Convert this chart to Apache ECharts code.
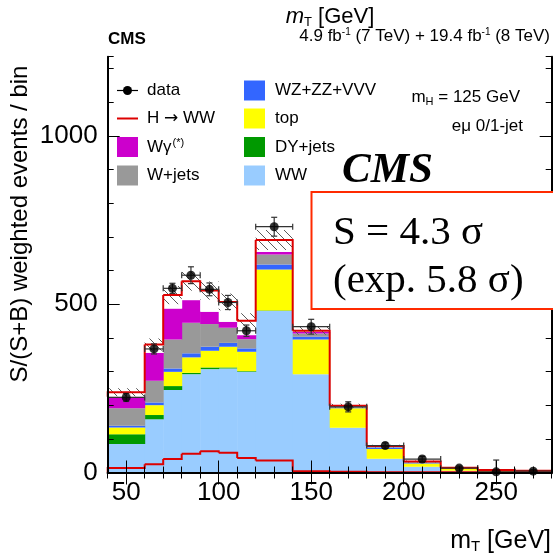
<!DOCTYPE html>
<html>
<head>
<meta charset="utf-8">
<script src="https://cdn.jsdelivr.net/npm/echarts@6/dist/echarts.min.js"></script>
<style>
  html, body { margin: 0; padding: 0; background: #fff; }
  #chart { width: 553px; height: 555px; }
</style>
</head>
<body>
<div id="chart"></div>
<script>
// Transverse-mass bins (GeV) for the e-mu 0/1-jet category
const binEdges = [40, 60, 70, 80, 90, 100, 110, 120, 140, 160, 180, 200, 220, 240, 260, 280];

// S/(S+B) weighted yields per bin, one array per process (stacked bottom to top)
const ww     = [84.6, 158, 245, 292, 307, 309, 299, 480, 292, 133, 41, 17, 5, 2, 1.5];
const dyJets = [28.7, 12.7, 11.7, 4, 5, 3, 2, 1, 0, 0, 0, 0, 0, 0, 0];
const ttbar  = [20.7, 29.3, 42.3, 46, 49.6, 61.5, 57.6, 122, 103, 57.5, 28.8, 10, 6, 4, 2.5];
const vvv    = [5, 8, 10, 12, 12, 11.5, 10, 15, 8, 2.5, 4.8, 3, 1, 0.5, 0.3];
const wJets  = [51.5, 64.5, 86, 90.7, 67.3, 45, 27.4, 29.6, 10, 2.5, 2, 1, 1, 0.3, 0.2];
const wGamma = [34.5, 83, 92, 67.3, 36.6, 17.6, 12, 7, 4, 0.5, 1, 1, 0.5, 0.2, 0.2];
const hww    = [13.5, 24.5, 40, 56, 63, 59, 43, 36, 4, 2, 1, 1, 0.5, 0.3, 0.2];

// Half-width of the systematic uncertainty band around the total prediction
const totalUnc = [12, 18, 27, 28, 27, 25, 22, 30, 12, 6, 4, 3, 2, 1, 1];

// Observed data and its statistical error
const dataVals = [223, 367, 547, 586, 544, 505, 421, 730, 433, 195, 80, 40, 13, 2, 4];
const dataErr  = [12, 15, 15, 25, 19, 21, 17, 28, 22, 15, 8, 8, 6, 35, 5];

// Axis ticks
const xMajorTicks = [50, 100, 150, 200, 250];
const yMajorTicks = [0, 500, 1000];

const FONT = '"Liberation Sans", Arial, Helvetica, sans-serif';
const SERIF = '"Liberation Serif", "Times New Roman", serif';
const RED = '#dd0000';

const binLo = binEdges.slice(0, -1);
const binHi = binEdges.slice(1);
const nBins = binLo.length;

const stack = [
  { name: 'WW',        values: ww,     color: '#99ccff' },
  { name: 'DY+jets',   values: dyJets, color: '#009900' },
  { name: 'top',       values: ttbar,  color: '#ffff00' },
  { name: 'WZ+ZZ+VVV', values: vvv,    color: '#3366ff' },
  { name: 'W+jets',    values: wJets,  color: '#999999' },
  { name: 'Wgamma',    values: wGamma, color: '#cc00cc' },
  { name: 'HWW',       values: hww,    color: '#ffffff' }
];

// cumulative stack levels
const cumulative = new Array(nBins).fill(0);
const stackSeries = stack.map(comp => {
  const data = [];
  for (let i = 0; i < nBins; i++) {
    const base = cumulative[i];
    const topv = base + comp.values[i];
    data.push([binLo[i], binHi[i], base, topv]);
    cumulative[i] = topv;
  }
  return {
    type: 'custom',
    name: comp.name,
    xAxisIndex: 0, yAxisIndex: 0,
    z: 2,
    silent: true,
    encode: { x: [0, 1], y: [2, 3] },
    data: data,
    renderItem: function (params, api) {
      const a = api.coord([api.value(0), api.value(3)]);
      const b = api.coord([api.value(1), api.value(2)]);
      return {
        type: 'rect',
        shape: { x: a[0], y: a[1], width: b[0] - a[0] + 0.5, height: b[1] - a[1] },
        style: { fill: comp.color }
      };
    }
  };
});
const totals = cumulative.slice();

// hatch pattern for the uncertainty band
const hatch = document.createElement('canvas');
hatch.width = 9; hatch.height = 9;
(function () {
  const c = hatch.getContext('2d');
  c.strokeStyle = '#5a5a5a';
  c.lineWidth = 1;
  c.beginPath();
  c.moveTo(-1, -1); c.lineTo(10, 10);
  c.moveTo(-1, 8); c.lineTo(1, 10);
  c.moveTo(8, -1); c.lineTo(10, 1);
  c.stroke();
})();

const bandData = [];
for (let i = 0; i < nBins; i++) {
  bandData.push([binLo[i], binHi[i], totals[i] - totalUnc[i], totals[i] + totalUnc[i]]);
}

// step outlines: [lo, hi, level, right-edge target, left-edge start]
function stepData(levels, firstBase, lastBase) {
  const out = [];
  for (let i = 0; i < nBins; i++) {
    const right = i < nBins - 1 ? levels[i + 1] : lastBase;
    const left = i === 0 ? firstBase : levels[i];
    out.push([binLo[i], binHi[i], levels[i], right, left]);
  }
  return out;
}
function stepRender(params, api) {
  const lo = api.value(0), hi = api.value(1), y = api.value(2), yR = api.value(3), yL = api.value(4);
  return {
    type: 'polyline',
    shape: { points: [api.coord([lo, yL]), api.coord([lo, y]), api.coord([hi, y]), api.coord([hi, yR])] },
    style: { stroke: RED, lineWidth: 2, fill: null }
  };
}

const errData = [];
const pointData = [];
for (let i = 0; i < nBins; i++) {
  errData.push([binLo[i], binHi[i], dataVals[i], dataErr[i]]);
  pointData.push([(binLo[i] + binHi[i]) / 2, dataVals[i]]);
}

function errRender(params, api) {
  const lo = api.value(0), hi = api.value(1), y = api.value(2), e = api.value(3);
  const mid = (lo + hi) / 2;
  const pL = api.coord([lo, y]), pR = api.coord([hi, y]);
  const low = Math.max(0, y - e);
  const pT = api.coord([mid, y + e]), pB = api.coord([mid, low]);
  const st = { stroke: '#333', lineWidth: 1.2 };
  const cap = 3;
  const kids = [
    { type: 'line', shape: { x1: pL[0], y1: pL[1], x2: pR[0], y2: pR[1] }, style: st },
    { type: 'line', shape: { x1: pL[0], y1: pL[1] - cap, x2: pL[0], y2: pL[1] + cap }, style: st },
    { type: 'line', shape: { x1: pR[0], y1: pR[1] - cap, x2: pR[0], y2: pR[1] + cap }, style: st },
    { type: 'line', shape: { x1: pT[0], y1: pT[1], x2: pB[0], y2: pB[1] }, style: st },
    { type: 'line', shape: { x1: pT[0] - cap, y1: pT[1], x2: pT[0] + cap, y2: pT[1] }, style: st }
  ];
  if (low > 0) kids.push({ type: 'line', shape: { x1: pB[0] - cap, y1: pB[1], x2: pB[0] + cap, y2: pB[1] }, style: st });
  return { type: 'group', children: kids };
}

const hwwBase = hww.map((h, i) => totals[i] - h);

const series = stackSeries.concat([
  {
    type: 'custom', name: 'uncertainty', z: 3, silent: true,
    xAxisIndex: 0, yAxisIndex: 0,
    encode: { x: [0, 1], y: [2, 3] },
    data: bandData,
    renderItem: function (params, api) {
      const a = api.coord([api.value(0), api.value(3)]);
      const b = api.coord([api.value(1), api.value(2)]);
      return {
        type: 'rect',
        shape: { x: a[0], y: a[1], width: b[0] - a[0], height: b[1] - a[1] },
        style: { fill: { image: hatch, repeat: 'repeat' } }
      };
    }
  },
  {
    type: 'custom', name: 'total outline', z: 4, silent: true,
    xAxisIndex: 0, yAxisIndex: 0,
    encode: { x: [0, 1], y: [2, 3, 4] },
    data: stepData(totals, hwwBase[0], hwwBase[nBins - 1]),
    renderItem: stepRender
  },
  {
    type: 'custom', name: 'H -> WW', z: 4, silent: true,
    xAxisIndex: 0, yAxisIndex: 0,
    encode: { x: [0, 1], y: [2, 3, 4] },
    data: stepData(hww, 0, 0),
    renderItem: stepRender
  },
  {
    type: 'custom', name: 'data errors', z: 5, silent: true,
    xAxisIndex: 0, yAxisIndex: 0,
    encode: { x: [0, 1], y: [2, 3] },
    data: errData,
    renderItem: errRender
  },
  {
    type: 'scatter', name: 'data', z: 6, silent: true,
    xAxisIndex: 0, yAxisIndex: 0,
    symbol: 'circle', symbolSize: 9,
    itemStyle: { color: '#000' },
    data: pointData
  }
]);

const plainNumber = v => String(v);

function xAxisDef(pos, major) {
  const a = {
    type: 'value', position: pos, min: 40, max: 280, z: 10,
    splitLine: { show: false },
    axisLine: { show: !major, lineStyle: { color: '#000', width: 2 } },
    axisTick: { inside: true, length: major ? 12 : 6, lineStyle: { color: '#000', width: 1 } },
    axisLabel: { show: false }
  };
  if (major) {
    a.axisTick.customValues = xMajorTicks;
    if (pos === 'bottom') {
      a.axisLabel = { show: true, customValues: xMajorTicks, formatter: plainNumber, color: '#000', fontSize: 26, fontFamily: FONT, margin: 7 };
    }
  } else {
    a.interval = 10;
  }
  return a;
}
function yAxisDef(pos, major) {
  const a = {
    type: 'value', position: pos, min: 0, max: 1235, z: 10,
    splitLine: { show: false },
    axisLine: { show: !major, lineStyle: { color: '#000', width: 2 } },
    axisTick: { inside: true, length: major ? 12 : 6, lineStyle: { color: '#000', width: 1 } },
    axisLabel: { show: false }
  };
  if (major) {
    a.axisTick.customValues = yMajorTicks;
    if (pos === 'left') {
      a.axisLabel = { show: true, customValues: yMajorTicks, formatter: plainNumber, color: '#000', fontSize: 26, fontFamily: FONT, margin: 10 };
    }
  } else {
    a.interval = 100;
  }
  return a;
}

// legend layout
const legendRows = [90.5, 118.5, 147, 175.5];
const colL = 117, colR = 244, boxW = 21, boxH = 20;
const legendFont = { fontSize: 17, fontFamily: FONT, fill: '#000' };
const graphics = [];
function legendText(x, y, text, rich) {
  graphics.push({
    type: 'text', x: x, y: y, z: 100,
    style: Object.assign({ text: text, textVerticalAlign: 'middle', textAlign: 'left', rich: rich || undefined }, legendFont)
  });
}
function legendBox(x, y, color) {
  graphics.push({ type: 'rect', z: 100, shape: { x: x, y: y - boxH / 2, width: boxW, height: boxH }, style: { fill: color } });
}
// data entry
graphics.push({ type: 'line', z: 100, shape: { x1: colL, y1: legendRows[0], x2: colL + boxW, y2: legendRows[0] }, style: { stroke: '#000', lineWidth: 1.2 } });
graphics.push({ type: 'circle', z: 101, shape: { cx: colL + boxW / 2, cy: legendRows[0], r: 4.5 }, style: { fill: '#000' } });
legendText(147, legendRows[0], 'data');
// signal entry
graphics.push({ type: 'line', z: 100, shape: { x1: colL, y1: legendRows[1], x2: colL + boxW, y2: legendRows[1] }, style: { stroke: RED, lineWidth: 2 } });
legendText(147, legendRows[1], '{n|H }{a|→}{n| WW}', {
  n: { fontSize: 17, fontFamily: FONT, fill: '#000' },
  a: { fontSize: 17, fontFamily: '"DejaVu Sans", sans-serif', fill: '#000' }
});
legendBox(colL, legendRows[2], stack[5].color);
legendText(147, legendRows[2], '{n|Wγ}{s|(*)}', {
  n: { fontSize: 17, fontFamily: FONT, fill: '#000' },
  s: { fontSize: 11, fontFamily: FONT, fill: '#000', verticalAlign: 'top', padding: [0, 0, 8, 1] }
});
legendBox(colL, legendRows[3], stack[4].color);
legendText(147, legendRows[3], stack[4].name);
[3, 2, 1, 0].forEach((k, r) => {
  legendBox(colR, legendRows[r], stack[k].color);
  legendText(275, legendRows[r], stack[k].name);
});

// labels above the frame
graphics.push({
  type: 'text', x: 330, y: 17, z: 100,
  style: {
    text: '{m|m}{s|T}{n| [GeV]}', textAlign: 'center', textVerticalAlign: 'middle',
    rich: {
      m: { fontSize: 22, fontStyle: 'italic', fontFamily: FONT, fill: '#000' },
      s: { fontSize: 13, fontFamily: FONT, fill: '#000', padding: [10, 0, 0, 0] },
      n: { fontSize: 22, fontFamily: FONT, fill: '#000' }
    }
  }
});
graphics.push({
  type: 'text', x: 108, y: 39, z: 100,
  style: { text: 'CMS', fontSize: 17, fontWeight: 'bold', fontFamily: FONT, fill: '#000', textVerticalAlign: 'middle' }
});
graphics.push({
  type: 'text', x: 550, y: 36, z: 100,
  style: {
    text: '{n|4.9 fb}{s|-1}{n| (7 TeV) + 19.4 fb}{s|-1}{n| (8 TeV)}', textAlign: 'right', textVerticalAlign: 'middle',
    rich: {
      n: { fontSize: 17, fontFamily: FONT, fill: '#000' },
      s: { fontSize: 10, fontFamily: FONT, fill: '#000', padding: [0, 0, 8, 0] }
    }
  }
});
// category annotations
graphics.push({
  type: 'text', x: 520, y: 97, z: 100,
  style: {
    text: '{n|m}{s|H}{n| = 125 GeV}', textAlign: 'right', textVerticalAlign: 'middle',
    rich: {
      n: { fontSize: 17, fontFamily: FONT, fill: '#000' },
      s: { fontSize: 11, fontFamily: FONT, fill: '#000', padding: [9, 0, 0, 0] }
    }
  }
});
graphics.push({
  type: 'text', x: 523, y: 126, z: 100,
  style: { text: 'eμ 0/1-jet', fontSize: 17, fontFamily: FONT, fill: '#000', textAlign: 'right', textVerticalAlign: 'middle' }
});
// axis titles
graphics.push({
  type: 'text', x: 20, y: 224, rotation: Math.PI / 2, z: 100,
  style: { text: 'S/(S+B) weighted events / bin', fontSize: 24, fontFamily: FONT, fill: '#000', textAlign: 'center', textVerticalAlign: 'middle' }
});
graphics.push({
  type: 'text', x: 551, y: 541, z: 100,
  style: {
    text: '{n|m}{s|T}{n| [GeV]}', textAlign: 'right', textVerticalAlign: 'middle',
    rich: {
      n: { fontSize: 25, fontFamily: FONT, fill: '#000' },
      s: { fontSize: 15, fontFamily: FONT, fill: '#000', padding: [12, 0, 0, 0] }
    }
  }
});
// significance box
graphics.push({
  type: 'text', x: 342, y: 171, z: 100,
  style: { text: 'CMS', fontSize: 43, fontWeight: 'bold', fontStyle: 'italic', fontFamily: SERIF, fill: '#000', textVerticalAlign: 'middle' }
});
graphics.push({
  type: 'rect', z: 100,
  shape: { x: 311.5, y: 192, width: 262, height: 117 },
  style: { fill: '#fff', stroke: '#ff2a00', lineWidth: 2 }
});
graphics.push({
  type: 'text', x: 333, y: 233, z: 101,
  style: { text: 'S = 4.3 σ', fontSize: 41, fontFamily: SERIF, fill: '#000', textVerticalAlign: 'middle' }
});
graphics.push({
  type: 'text', x: 333, y: 281, z: 101,
  style: { text: '(exp. 5.8 σ)', fontSize: 41, fontFamily: SERIF, fill: '#000', textVerticalAlign: 'middle' }
});

const chart = echarts.init(document.getElementById('chart'), null, { renderer: 'canvas' });
chart.setOption({
  animation: false,
  backgroundColor: '#fff',
  grid: { left: 107.7, right: 1.3, top: 56.7, bottom: 82.5, containLabel: false },
  xAxis: [xAxisDef('bottom', false), xAxisDef('bottom', true), xAxisDef('top', false), xAxisDef('top', true)],
  yAxis: [yAxisDef('left', false), yAxisDef('left', true), yAxisDef('right', false), yAxisDef('right', true)],
  series: series,
  graphic: { elements: graphics }
});
</script>
</body>
</html>
